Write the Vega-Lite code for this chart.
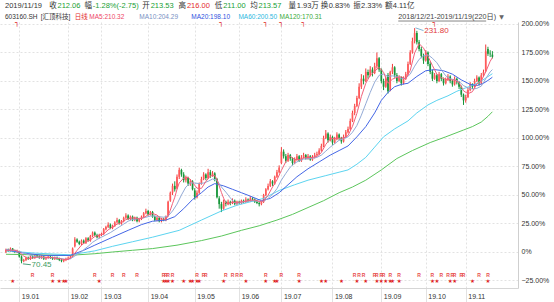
{
"$schema":"https://vega.github.io/schema/vega-lite/v6.json",
"width":518,"height":266,
"autosize":{"type":"none"},
"padding":{"left":0,"top":22,"right":36,"bottom":14},
"background":"#ffffff",
"config":{"view":{"stroke":null},"font":"Liberation Sans"},
"datasets":{
"k":[
{"i":0,"o":0,"h":3,"l":-1,"c":2},{"i":1,"o":2,"h":3,"l":0,"c":1},{"i":2,"o":1,"h":4,"l":0,"c":3},{"i":3,"o":3,"h":3.5,"l":0,"c":1},{"i":4,"o":1,"h":2,"l":-1,"c":0},{"i":5,"o":0,"h":2,"l":-1,"c":1},{"i":6,"o":0,"h":1,"l":-5,"c":-4},{"i":7,"o":-4,"h":-3,"l":-9.9,"c":-8},{"i":8,"o":-8,"h":-6,"l":-9,"c":-7},{"i":9,"o":-7,"h":-4,"l":-8,"c":-5},
{"i":10,"o":-5,"h":-4,"l":-7,"c":-6},{"i":11,"o":-6,"h":-3,"l":-7,"c":-4},{"i":12,"o":-4,"h":-3,"l":-6,"c":-5},{"i":13,"o":-5,"h":-2,"l":-6,"c":-3},{"i":14,"o":-3,"h":-2,"l":-5,"c":-4},{"i":15,"o":-4,"h":-3,"l":-6,"c":-5},{"i":16,"o":-5,"h":-3,"l":-6,"c":-4},{"i":17,"o":-4,"h":-3,"l":-7,"c":-6},{"i":18,"o":-6,"h":-4,"l":-7,"c":-5},{"i":19,"o":-5,"h":-3,"l":-6,"c":-4},
{"i":20,"o":-4,"h":-3,"l":-6,"c":-5},{"i":21,"o":-5,"h":-4,"l":-7,"c":-6},{"i":22,"o":-6,"h":-4,"l":-7,"c":-5},{"i":23,"o":-5,"h":-4,"l":-7,"c":-6},{"i":24,"o":-6,"h":-5,"l":-8,"c":-7},{"i":25,"o":-7,"h":-6,"l":-9,"c":-8},{"i":26,"o":-8,"h":-6,"l":-9,"c":-7},{"i":27,"o":-7,"h":-5,"l":-8,"c":-6},{"i":28,"o":-6,"h":-4,"l":-7,"c":-5},{"i":29,"o":-5,"h":-3,"l":-6,"c":-4},
{"i":30,"o":-4,"h":4,"l":-4.5,"c":3},{"i":31,"o":5,"h":13,"l":4,"c":11},{"i":32,"o":11,"h":12,"l":8,"c":9},{"i":33,"o":9,"h":10,"l":6,"c":7},{"i":34,"o":7,"h":11,"l":6,"c":10},{"i":35,"o":10,"h":11,"l":7,"c":8},{"i":36,"o":8,"h":13,"l":7,"c":12},{"i":37,"o":12,"h":13,"l":9,"c":10},{"i":38,"o":10,"h":15,"l":9,"c":14},{"i":39,"o":14,"h":18,"l":13,"c":17},
{"i":40,"o":17,"h":18,"l":14,"c":15},{"i":41,"o":15,"h":16,"l":12,"c":13},{"i":42,"o":13,"h":16,"l":12,"c":15},{"i":43,"o":15,"h":17,"l":14,"c":16},{"i":44,"o":16,"h":21,"l":15,"c":20},{"i":45,"o":20,"h":23,"l":19,"c":22},{"i":46,"o":22,"h":26,"l":21,"c":24},{"i":47,"o":24,"h":25,"l":20,"c":21},{"i":48,"o":21,"h":24,"l":20,"c":23},{"i":49,"o":23,"h":27,"l":22,"c":26},
{"i":50,"o":26,"h":30,"l":25,"c":28},{"i":51,"o":28,"h":29,"l":24,"c":25},{"i":52,"o":25,"h":28,"l":24,"c":27},{"i":53,"o":27,"h":31,"l":26,"c":30},{"i":54,"o":30,"h":34,"l":29,"c":32},{"i":55,"o":32,"h":33,"l":28,"c":29},{"i":56,"o":29,"h":32,"l":28,"c":31},{"i":57,"o":31,"h":32,"l":27,"c":28},{"i":58,"o":28,"h":31,"l":27,"c":30},{"i":59,"o":30,"h":31,"l":26,"c":27},
{"i":60,"o":27,"h":30,"l":26,"c":29},{"i":61,"o":29,"h":32,"l":28,"c":31},{"i":62,"o":31,"h":35,"l":30,"c":34},{"i":63,"o":34,"h":38,"l":33,"c":36},{"i":64,"o":36,"h":37,"l":32,"c":33},{"i":65,"o":33,"h":36,"l":32,"c":35},{"i":66,"o":35,"h":36,"l":30,"c":31},{"i":67,"o":31,"h":32,"l":27,"c":28},{"i":68,"o":28,"h":31,"l":27,"c":30},{"i":69,"o":30,"h":31,"l":26,"c":27},
{"i":70,"o":27,"h":30,"l":26,"c":29},{"i":71,"o":29,"h":30,"l":27,"c":28},{"i":72,"o":28,"h":32,"l":27,"c":31},{"i":73,"o":32,"h":45,"l":31,"c":44},{"i":74,"o":45,"h":53,"l":44,"c":52},{"i":75,"o":52,"h":60,"l":50,"c":58},{"i":76,"o":58,"h":62,"l":53,"c":55},{"i":77,"o":56,"h":68,"l":55,"c":66},{"i":78,"o":66,"h":74,"l":64,"c":72},{"i":79,"o":72,"h":73,"l":66,"c":68},
{"i":80,"o":68,"h":70,"l":61,"c":63},{"i":81,"o":63,"h":67,"l":61,"c":65},{"i":82,"o":65,"h":66,"l":58,"c":60},{"i":83,"o":60,"h":64,"l":58,"c":62},{"i":84,"o":62,"h":63,"l":54,"c":55},{"i":85,"o":54,"h":56,"l":46,"c":48},{"i":86,"o":48,"h":54,"l":47,"c":52},{"i":87,"o":52,"h":61,"l":51,"c":60},{"i":88,"o":60,"h":66,"l":59,"c":64},{"i":89,"o":64,"h":70,"l":63,"c":68},
{"i":90,"o":68,"h":69,"l":63,"c":65},{"i":91,"o":65,"h":73,"l":64,"c":70},{"i":92,"o":70,"h":72,"l":65,"c":67},{"i":93,"o":67,"h":71,"l":66,"c":69},{"i":94,"o":69,"h":70,"l":62,"c":64},{"i":95,"o":64,"h":65,"l":47,"c":48},{"i":96,"o":47,"h":49,"l":38,"c":42},{"i":97,"o":42,"h":44,"l":35,"c":38},{"i":98,"o":38,"h":46,"l":37,"c":44},{"i":99,"o":44,"h":45,"l":40,"c":42},
{"i":100,"o":42,"h":46,"l":41,"c":44},{"i":101,"o":44,"h":45,"l":41,"c":43},{"i":102,"o":43,"h":47,"l":42,"c":45},{"i":103,"o":45,"h":46,"l":41,"c":42},{"i":104,"o":42,"h":45,"l":41,"c":44},{"i":105,"o":44,"h":45,"l":42,"c":43},{"i":106,"o":43,"h":46,"l":42,"c":45},{"i":107,"o":45,"h":46,"l":43,"c":44},{"i":108,"o":44,"h":48,"l":43,"c":46},{"i":109,"o":46,"h":47,"l":44,"c":45},
{"i":110,"o":45,"h":49,"l":44,"c":47},{"i":111,"o":47,"h":48,"l":45,"c":46},{"i":112,"o":46,"h":47,"l":43,"c":44},{"i":113,"o":44,"h":45,"l":42,"c":43},{"i":114,"o":43,"h":44,"l":40,"c":42},{"i":115,"o":42,"h":45,"l":41,"c":44},{"i":116,"o":44,"h":51,"l":43,"c":50},{"i":117,"o":50,"h":56,"l":49,"c":55},{"i":118,"o":55,"h":60,"l":54,"c":58},{"i":119,"o":58,"h":64,"l":57,"c":62},
{"i":120,"o":62,"h":63,"l":58,"c":60},{"i":121,"o":60,"h":67,"l":59,"c":66},{"i":122,"o":66,"h":72,"l":65,"c":70},{"i":123,"o":70,"h":76,"l":69,"c":74},{"i":124,"o":78,"h":92,"l":77,"c":88},{"i":125,"o":88,"h":90,"l":82,"c":84},{"i":126,"o":84,"h":86,"l":78,"c":80},{"i":127,"o":80,"h":87,"l":79,"c":85},{"i":128,"o":85,"h":86,"l":80,"c":82},{"i":129,"o":82,"h":83,"l":76,"c":78},
{"i":130,"o":78,"h":83,"l":77,"c":81},{"i":131,"o":81,"h":86,"l":80,"c":84},{"i":132,"o":84,"h":85,"l":79,"c":80},{"i":133,"o":80,"h":85,"l":79,"c":83},{"i":134,"o":83,"h":87,"l":82,"c":85},{"i":135,"o":85,"h":86,"l":81,"c":82},{"i":136,"o":82,"h":86,"l":81,"c":84},{"i":137,"o":84,"h":85,"l":80,"c":81},{"i":138,"o":81,"h":85,"l":80,"c":83},{"i":139,"o":83,"h":87,"l":82,"c":85},
{"i":140,"o":85,"h":88,"l":84,"c":86},{"i":141,"o":86,"h":91,"l":85,"c":89},{"i":142,"o":89,"h":95,"l":88,"c":93},{"i":143,"o":93,"h":102,"l":92,"c":100},{"i":144,"o":100,"h":107,"l":99,"c":104},{"i":145,"o":104,"h":105,"l":96,"c":98},{"i":146,"o":98,"h":103,"l":97,"c":101},{"i":147,"o":101,"h":102,"l":94,"c":96},{"i":148,"o":96,"h":101,"l":95,"c":99},{"i":149,"o":99,"h":105,"l":98,"c":103},
{"i":150,"o":103,"h":104,"l":98,"c":100},{"i":151,"o":100,"h":101,"l":95,"c":97},{"i":152,"o":97,"h":103,"l":96,"c":101},{"i":153,"o":101,"h":107,"l":100,"c":105},{"i":154,"o":105,"h":110,"l":104,"c":108},{"i":155,"o":108,"h":117,"l":107,"c":115},{"i":156,"o":115,"h":124,"l":114,"c":122},{"i":157,"o":122,"h":130,"l":120,"c":128},{"i":158,"o":128,"h":137,"l":127,"c":135},{"i":159,"o":135,"h":148,"l":134,"c":145},
{"i":160,"o":145,"h":156,"l":143,"c":152},{"i":161,"o":152,"h":155,"l":147,"c":150},{"i":162,"o":150,"h":161,"l":149,"c":158},{"i":163,"o":158,"h":160,"l":152,"c":155},{"i":164,"o":155,"h":163,"l":154,"c":160},{"i":165,"o":160,"h":162,"l":154,"c":157},{"i":166,"o":157,"h":166,"l":156,"c":163},{"i":167,"o":163,"h":175,"l":161,"c":170},{"i":168,"o":170,"h":171,"l":158,"c":160},{"i":169,"o":160,"h":161,"l":148,"c":150},
{"i":170,"o":150,"h":152,"l":142,"c":145},{"i":171,"o":145,"h":154,"l":144,"c":152},{"i":172,"o":155,"h":157,"l":139,"c":141},{"i":173,"o":142,"h":159,"l":141,"c":158},{"i":174,"o":158,"h":165,"l":156,"c":162},{"i":175,"o":162,"h":163,"l":153,"c":155},{"i":176,"o":155,"h":157,"l":148,"c":150},{"i":177,"o":150,"h":155,"l":149,"c":153},{"i":178,"o":153,"h":154,"l":146,"c":148},{"i":179,"o":148,"h":154,"l":147,"c":152},
{"i":180,"o":152,"h":158,"l":151,"c":156},{"i":181,"o":156,"h":167,"l":155,"c":165},{"i":182,"o":165,"h":177,"l":164,"c":175},{"i":183,"o":175,"h":188,"l":174,"c":185},{"i":184,"o":185,"h":196.4,"l":183,"c":192},{"i":185,"o":192,"h":194,"l":182,"c":184},{"i":186,"o":184,"h":186,"l":176,"c":178},{"i":187,"o":178,"h":180,"l":170,"c":172},{"i":188,"o":172,"h":174,"l":165,"c":168},{"i":189,"o":168,"h":177,"l":167,"c":175},
{"i":190,"o":175,"h":176,"l":163,"c":165},{"i":191,"o":165,"h":167,"l":156,"c":158},{"i":192,"o":158,"h":160,"l":150,"c":152},{"i":193,"o":152,"h":157,"l":151,"c":155},{"i":194,"o":155,"h":156,"l":148,"c":150},{"i":195,"o":150,"h":158,"l":149,"c":156},{"i":196,"o":156,"h":157,"l":150,"c":152},{"i":197,"o":152,"h":153,"l":146,"c":148},{"i":198,"o":148,"h":153,"l":147,"c":151},{"i":199,"o":151,"h":156,"l":150,"c":154},
{"i":200,"o":154,"h":155,"l":148,"c":150},{"i":201,"o":150,"h":151,"l":145,"c":147},{"i":202,"o":147,"h":154,"l":146,"c":152},{"i":203,"o":152,"h":153,"l":147,"c":149},{"i":204,"o":149,"h":150,"l":143,"c":145},{"i":205,"o":145,"h":146,"l":136,"c":138},{"i":206,"o":138,"h":139,"l":129,"c":133},{"i":207,"o":133,"h":138,"l":131,"c":136},{"i":208,"o":136,"h":144,"l":135,"c":142},{"i":209,"o":142,"h":149,"l":141,"c":147},
{"i":210,"o":147,"h":148,"l":143,"c":145},{"i":211,"o":145,"h":152,"l":144,"c":150},{"i":212,"o":150,"h":155,"l":149,"c":153},{"i":213,"o":153,"h":154,"l":146,"c":148},{"i":214,"o":148,"h":157,"l":147,"c":155},{"i":215,"o":155,"h":160,"l":154,"c":158},{"i":216,"o":159,"h":182,"l":158,"c":176},{"i":217,"o":178,"h":180,"l":172,"c":174},{"i":218,"o":174,"h":177,"l":171,"c":173.5},{"i":219,"o":173.1,"h":176.2,"l":169.8,"c":171.2}
],
"ma":[
{"m":"MA120","i":0,"v":-2},{"m":"MA120","i":14,"v":-2.5},{"m":"MA120","i":28,"v":-3},{"m":"MA120","i":40,"v":-1.5},{"m":"MA120","i":48,"v":0},{"m":"MA120","i":57,"v":1.5},{"m":"MA120","i":66,"v":3},{"m":"MA120","i":77,"v":6},{"m":"MA120","i":88,"v":10},{"m":"MA120","i":97,"v":14},{"m":"MA120","i":106,"v":19},{"m":"MA120","i":114,"v":23},{"m":"MA120","i":122,"v":28},{"m":"MA120","i":129,"v":33},{"m":"MA120","i":136,"v":39},{"m":"MA120","i":143,"v":45},{"m":"MA120","i":150,"v":52},{"m":"MA120","i":156,"v":57},{"m":"MA120","i":162,"v":63},{"m":"MA120","i":169,"v":72},{"m":"MA120","i":176,"v":82},{"m":"MA120","i":183,"v":89},{"m":"MA120","i":191,"v":96},{"m":"MA120","i":198,"v":101},{"m":"MA120","i":206,"v":107},{"m":"MA120","i":210,"v":110},{"m":"MA120","i":214,"v":114},{"m":"MA120","i":217,"v":119},{"m":"MA120","i":219,"v":123},
{"m":"MA60","i":0,"v":1},{"m":"MA60","i":13,"v":-1},{"m":"MA60","i":29,"v":-2.5},{"m":"MA60","i":40,"v":1},{"m":"MA60","i":48,"v":5},{"m":"MA60","i":57,"v":9},{"m":"MA60","i":66,"v":13},{"m":"MA60","i":78,"v":19},{"m":"MA60","i":88,"v":28},{"m":"MA60","i":97,"v":36},{"m":"MA60","i":104,"v":41},{"m":"MA60","i":110,"v":44},{"m":"MA60","i":116,"v":47},{"m":"MA60","i":123,"v":54},{"m":"MA60","i":130,"v":59},{"m":"MA60","i":136,"v":63},{"m":"MA60","i":144,"v":67},{"m":"MA60","i":150,"v":70},{"m":"MA60","i":154,"v":72},{"m":"MA60","i":158,"v":77},{"m":"MA60","i":162,"v":83},{"m":"MA60","i":166,"v":92},{"m":"MA60","i":170,"v":101},{"m":"MA60","i":175,"v":108},{"m":"MA60","i":181,"v":115},{"m":"MA60","i":185,"v":122},{"m":"MA60","i":190,"v":129},{"m":"MA60","i":194,"v":133},{"m":"MA60","i":199,"v":137},{"m":"MA60","i":203,"v":141},{"m":"MA60","i":207,"v":144},{"m":"MA60","i":210,"v":146},{"m":"MA60","i":214,"v":150},{"m":"MA60","i":219,"v":156.4},
{"m":"MA20","i":0,"v":2},{"m":"MA20","i":8,"v":-1},{"m":"MA20","i":17,"v":-3},{"m":"MA20","i":29,"v":-3},{"m":"MA20","i":35,"v":1.5},{"m":"MA20","i":40,"v":6},{"m":"MA20","i":48,"v":13},{"m":"MA20","i":55,"v":19},{"m":"MA20","i":61,"v":24},{"m":"MA20","i":66,"v":27},{"m":"MA20","i":72,"v":28},{"m":"MA20","i":76,"v":31},{"m":"MA20","i":80,"v":38},{"m":"MA20","i":84,"v":46},{"m":"MA20","i":88,"v":52},{"m":"MA20","i":91,"v":57},{"m":"MA20","i":94,"v":60},{"m":"MA20","i":98,"v":58},{"m":"MA20","i":102,"v":55},{"m":"MA20","i":106,"v":52},{"m":"MA20","i":110,"v":49},{"m":"MA20","i":115,"v":45},{"m":"MA20","i":119,"v":47},{"m":"MA20","i":123,"v":52},{"m":"MA20","i":127,"v":59},{"m":"MA20","i":131,"v":66},{"m":"MA20","i":136,"v":73},{"m":"MA20","i":141,"v":79},{"m":"MA20","i":146,"v":85},{"m":"MA20","i":150,"v":89},{"m":"MA20","i":154,"v":93},{"m":"MA20","i":158,"v":101},{"m":"MA20","i":162,"v":110},{"m":"MA20","i":166,"v":122},{"m":"MA20","i":169,"v":133},{"m":"MA20","i":172,"v":140},{"m":"MA20","i":175,"v":145},{"m":"MA20","i":178,"v":147},{"m":"MA20","i":181,"v":148},{"m":"MA20","i":185,"v":154},{"m":"MA20","i":189,"v":159},{"m":"MA20","i":193,"v":160},{"m":"MA20","i":197,"v":159},{"m":"MA20","i":201,"v":156},{"m":"MA20","i":205,"v":151},{"m":"MA20","i":209,"v":147},{"m":"MA20","i":212,"v":146},{"m":"MA20","i":215,"v":148},{"m":"MA20","i":217,"v":150.5},{"m":"MA20","i":219,"v":153.3},
{"m":"MA10","i":0,"v":2},{"m":"MA10","i":3,"v":1.5},{"m":"MA10","i":6,"v":0.5},{"m":"MA10","i":9,"v":-1.5},{"m":"MA10","i":12,"v":-3.5},{"m":"MA10","i":15,"v":-5},{"m":"MA10","i":18,"v":-5},{"m":"MA10","i":21,"v":-5},{"m":"MA10","i":24,"v":-5.5},{"m":"MA10","i":27,"v":-6.5},{"m":"MA10","i":29,"v":-6},{"m":"MA10","i":31,"v":-3.5},{"m":"MA10","i":33,"v":-1},{"m":"MA10","i":35,"v":2},{"m":"MA10","i":37,"v":5},{"m":"MA10","i":39,"v":8.5},{"m":"MA10","i":41,"v":11},{"m":"MA10","i":43,"v":13},{"m":"MA10","i":45,"v":15},{"m":"MA10","i":47,"v":17},{"m":"MA10","i":49,"v":19.5},{"m":"MA10","i":51,"v":22},{"m":"MA10","i":53,"v":24.5},{"m":"MA10","i":55,"v":27},{"m":"MA10","i":57,"v":28.5},{"m":"MA10","i":59,"v":29},{"m":"MA10","i":61,"v":29.5},{"m":"MA10","i":63,"v":30.5},{"m":"MA10","i":65,"v":31.5},{"m":"MA10","i":67,"v":31.5},{"m":"MA10","i":69,"v":31},{"m":"MA10","i":71,"v":30.5},{"m":"MA10","i":73,"v":31.5},{"m":"MA10","i":75,"v":36},{"m":"MA10","i":77,"v":42},{"m":"MA10","i":79,"v":50},{"m":"MA10","i":81,"v":57},{"m":"MA10","i":83,"v":60.5},{"m":"MA10","i":85,"v":60.5},{"m":"MA10","i":87,"v":60},{"m":"MA10","i":89,"v":60.5},{"m":"MA10","i":91,"v":62},{"m":"MA10","i":93,"v":64},{"m":"MA10","i":95,"v":63},{"m":"MA10","i":97,"v":57},{"m":"MA10","i":99,"v":52.5},{"m":"MA10","i":101,"v":47.5},{"m":"MA10","i":103,"v":43},{"m":"MA10","i":105,"v":43},{"m":"MA10","i":108,"v":44.5},{"m":"MA10","i":111,"v":45},{"m":"MA10","i":114,"v":44.5},{"m":"MA10","i":116,"v":44.5},{"m":"MA10","i":118,"v":47},{"m":"MA10","i":120,"v":50.5},{"m":"MA10","i":122,"v":55.5},{"m":"MA10","i":124,"v":63},{"m":"MA10","i":126,"v":69},{"m":"MA10","i":128,"v":74.5},{"m":"MA10","i":130,"v":78},{"m":"MA10","i":132,"v":80},{"m":"MA10","i":134,"v":81.5},{"m":"MA10","i":137,"v":82},{"m":"MA10","i":140,"v":83},{"m":"MA10","i":142,"v":85},{"m":"MA10","i":144,"v":88.5},{"m":"MA10","i":146,"v":92},{"m":"MA10","i":148,"v":95},{"m":"MA10","i":150,"v":98},{"m":"MA10","i":152,"v":99.5},{"m":"MA10","i":154,"v":101},{"m":"MA10","i":156,"v":105},{"m":"MA10","i":158,"v":111},{"m":"MA10","i":160,"v":120},{"m":"MA10","i":162,"v":130},{"m":"MA10","i":164,"v":140},{"m":"MA10","i":166,"v":149},{"m":"MA10","i":168,"v":155},{"m":"MA10","i":170,"v":156},{"m":"MA10","i":172,"v":154},{"m":"MA10","i":174,"v":154.5},{"m":"MA10","i":176,"v":154},{"m":"MA10","i":178,"v":152},{"m":"MA10","i":180,"v":152.5},{"m":"MA10","i":182,"v":156},{"m":"MA10","i":184,"v":163},{"m":"MA10","i":186,"v":169},{"m":"MA10","i":188,"v":172},{"m":"MA10","i":190,"v":173},{"m":"MA10","i":192,"v":170},{"m":"MA10","i":194,"v":166},{"m":"MA10","i":196,"v":160},{"m":"MA10","i":198,"v":154.5},{"m":"MA10","i":200,"v":152},{"m":"MA10","i":202,"v":151},{"m":"MA10","i":204,"v":149.5},{"m":"MA10","i":206,"v":146},{"m":"MA10","i":208,"v":144},{"m":"MA10","i":210,"v":143},{"m":"MA10","i":212,"v":143.5},{"m":"MA10","i":214,"v":145.5},{"m":"MA10","i":216,"v":152},{"m":"MA10","i":218,"v":158},{"m":"MA10","i":219,"v":160},
{"m":"MA5","i":0,"v":1.5},{"m":"MA5","i":2,"v":1.6},{"m":"MA5","i":4,"v":1.6},{"m":"MA5","i":6,"v":0},{"m":"MA5","i":8,"v":-3.6},{"m":"MA5","i":10,"v":-5.8},{"m":"MA5","i":12,"v":-5.2},{"m":"MA5","i":14,"v":-4.4},{"m":"MA5","i":16,"v":-4.2},{"m":"MA5","i":18,"v":-4.8},{"m":"MA5","i":20,"v":-4.8},{"m":"MA5","i":22,"v":-5.2},{"m":"MA5","i":24,"v":-5.8},{"m":"MA5","i":26,"v":-6.6},{"m":"MA5","i":28,"v":-6.6},{"m":"MA5","i":30,"v":-3.8},{"m":"MA5","i":31,"v":-1.2},{"m":"MA5","i":32,"v":1.4},{"m":"MA5","i":34,"v":6},{"m":"MA5","i":36,"v":9},{"m":"MA5","i":38,"v":10.6},{"m":"MA5","i":40,"v":13.6},{"m":"MA5","i":42,"v":14.8},{"m":"MA5","i":44,"v":15.8},{"m":"MA5","i":46,"v":19.4},{"m":"MA5","i":48,"v":22},{"m":"MA5","i":50,"v":24.4},{"m":"MA5","i":52,"v":25.8},{"m":"MA5","i":54,"v":28.4},{"m":"MA5","i":56,"v":29.6},{"m":"MA5","i":58,"v":30},{"m":"MA5","i":60,"v":29},{"m":"MA5","i":62,"v":30.2},{"m":"MA5","i":64,"v":32.6},{"m":"MA5","i":66,"v":33.8},{"m":"MA5","i":68,"v":32.4},{"m":"MA5","i":70,"v":29},{"m":"MA5","i":72,"v":28.6},{"m":"MA5","i":73,"v":31.8},{"m":"MA5","i":74,"v":36.8},{"m":"MA5","i":75,"v":42.6},{"m":"MA5","i":76,"v":48},{"m":"MA5","i":77,"v":55},{"m":"MA5","i":78,"v":60.6},{"m":"MA5","i":80,"v":64.8},{"m":"MA5","i":82,"v":65.6},{"m":"MA5","i":84,"v":61},{"m":"MA5","i":86,"v":56},{"m":"MA5","i":88,"v":55.8},{"m":"MA5","i":90,"v":61.8},{"m":"MA5","i":92,"v":66.8},{"m":"MA5","i":94,"v":67},{"m":"MA5","i":95,"v":63.6},{"m":"MA5","i":96,"v":58},{"m":"MA5","i":97,"v":52.2},{"m":"MA5","i":98,"v":47.2},{"m":"MA5","i":99,"v":42.8},{"m":"MA5","i":100,"v":42},{"m":"MA5","i":102,"v":43.6},{"m":"MA5","i":104,"v":43.6},{"m":"MA5","i":106,"v":43.8},{"m":"MA5","i":108,"v":44.4},{"m":"MA5","i":110,"v":45.4},{"m":"MA5","i":112,"v":45.6},{"m":"MA5","i":114,"v":44.4},{"m":"MA5","i":116,"v":44.6},{"m":"MA5","i":118,"v":49.8},{"m":"MA5","i":120,"v":57},{"m":"MA5","i":122,"v":63.2},{"m":"MA5","i":124,"v":71.6},{"m":"MA5","i":126,"v":79.2},{"m":"MA5","i":128,"v":83.8},{"m":"MA5","i":130,"v":81.2},{"m":"MA5","i":132,"v":81},{"m":"MA5","i":134,"v":82.6},{"m":"MA5","i":136,"v":82.8},{"m":"MA5","i":138,"v":83},{"m":"MA5","i":140,"v":83.8},{"m":"MA5","i":142,"v":87.2},{"m":"MA5","i":144,"v":94.4},{"m":"MA5","i":146,"v":99.2},{"m":"MA5","i":148,"v":99.6},{"m":"MA5","i":150,"v":99.8},{"m":"MA5","i":152,"v":100},{"m":"MA5","i":154,"v":102.2},{"m":"MA5","i":156,"v":110.2},{"m":"MA5","i":158,"v":121.6},{"m":"MA5","i":160,"v":136.4},{"m":"MA5","i":162,"v":148},{"m":"MA5","i":164,"v":155},{"m":"MA5","i":166,"v":158.6},{"m":"MA5","i":168,"v":162},{"m":"MA5","i":170,"v":157.6},{"m":"MA5","i":172,"v":148},{"m":"MA5","i":174,"v":151.6},{"m":"MA5","i":176,"v":153.2},{"m":"MA5","i":178,"v":153.6},{"m":"MA5","i":180,"v":151.8},{"m":"MA5","i":182,"v":159.2},{"m":"MA5","i":184,"v":174.6},{"m":"MA5","i":186,"v":182.8},{"m":"MA5","i":188,"v":178.8},{"m":"MA5","i":190,"v":171.6},{"m":"MA5","i":192,"v":163.6},{"m":"MA5","i":194,"v":156},{"m":"MA5","i":196,"v":153},{"m":"MA5","i":198,"v":151.4},{"m":"MA5","i":200,"v":151},{"m":"MA5","i":202,"v":150.8},{"m":"MA5","i":204,"v":148.6},{"m":"MA5","i":206,"v":141.4},{"m":"MA5","i":208,"v":138.8},{"m":"MA5","i":210,"v":140.6},{"m":"MA5","i":212,"v":147.4},{"m":"MA5","i":214,"v":150.2},{"m":"MA5","i":216,"v":158},{"m":"MA5","i":218,"v":167.3},{"m":"MA5","i":219,"v":170.5}
],
"hdr1":[
{"t":"2019/11/19","k":"t","i":-0.44,"p":216.2},{"t":"收","k":"t","i":19.43,"p":216.2},{"t":"212.06","k":"dn","i":23.18,"p":216.2},{"t":"幅","k":"t","i":35.32,"p":216.2},{"t":"-1.28%(-2.75)","k":"dn","i":39.08,"p":216.2},{"t":"开","k":"t","i":61.37,"p":216.2},{"t":"213.53","k":"dn","i":65.13,"p":216.2},{"t":"高","k":"t","i":77.71,"p":216.2},{"t":"216.00","k":"up","i":81.46,"p":216.2},{"t":"低","k":"t","i":94.05,"p":216.2},{"t":"211.00","k":"dn","i":97.8,"p":216.2},{"t":"均","k":"t","i":109.94,"p":216.2},{"t":"213.57","k":"dn","i":113.7,"p":216.2},{"t":"量","k":"t","i":127.16,"p":216.2},{"t":"1.93万","k":"t","i":130.92,"p":216.2},{"t":"换","k":"t","i":141.73,"p":216.2},{"t":"0.83%","k":"t","i":145.27,"p":216.2},{"t":"振","k":"t","i":156.3,"p":216.2},{"t":"2.33%","k":"t","i":159.84,"p":216.2},{"t":"额","k":"t","i":170.65,"p":216.2},{"t":"4.11亿","k":"t","i":174.19,"p":216.2}
],
"hdr2":[
{"t":"603160.SH","k":"t","i":-0.44,"p":206.1},{"t":"[汇顶科技]","k":"t","i":15.6,"p":206.1},{"t":"日线","k":"up","i":31,"p":206.1},{"t":"MA5:210.32","k":"m5","i":37.5,"p":206.1},{"t":"MA10:204.29","k":"m10","i":60.05,"p":206.1},{"t":"MA20:198.10","k":"m20","i":83.45,"p":206.1},{"t":"MA60:200.50","k":"m60","i":104.65,"p":206.1},{"t":"MA120:170.31","k":"m120","i":123.19,"p":206.1}
],
"rng":[{"t":"2018/12/21-2019/11/19(220日)","i":176.62,"i2":216.2,"p":206.1,"p2":202.6}],
"tri":[{"t":"▼","i":222.1,"p":206.1}],
"ann":[{"t":"231.80","k":"hi","i":188.3,"p":193.5},{"t":"70.45","k":"lo","i":11.5,"p":-11.4}],
"lead":[{"k":"hi","i":184.4,"i2":188,"p":196.6,"p2":194.2},{"k":"lo","i":7.6,"i2":11.2,"p":-10.4,"p2":-11.2}],
"r":[{"i":12,"p":-20.2},{"i":21,"p":-20.2},{"i":40,"p":-20.2},{"i":48,"p":-20.2},{"i":53,"p":-20.2},{"i":59,"p":-20.2},{"i":71,"p":-20.2},{"i":72,"p":-20.2},{"i":73,"p":-20.2},{"i":75,"p":-20.2},{"i":86,"p":-20.2},{"i":89,"p":-20.2},{"i":90,"p":-20.2},{"i":99,"p":-20.2},{"i":102,"p":-20.2},{"i":104,"p":-20.2},{"i":106,"p":-20.2},{"i":117,"p":-20.2},{"i":124,"p":-20.2},{"i":132,"p":-20.2},{"i":157,"p":-20.2},{"i":159,"p":-20.2},{"i":161,"p":-20.2},{"i":166,"p":-20.2},{"i":167,"p":-20.2},{"i":169,"p":-20.2},{"i":170,"p":-20.2},{"i":173,"p":-20.2},{"i":177,"p":-20.2},{"i":186,"p":-20.2},{"i":192,"p":-20.2},{"i":196,"p":-20.2},{"i":199,"p":-20.2},{"i":201,"p":-20.2},{"i":202,"p":-20.2},{"i":205,"p":-20.2},{"i":206,"p":-20.2},{"i":213,"p":-20.2},{"i":217,"p":-20.2}],
"star":[{"i":3,"p":-25.4},{"i":21,"p":-25.4},{"i":24,"p":-25.4},{"i":26,"p":-25.4},{"i":27,"p":-25.4},{"i":42,"p":-25.4},{"i":71,"p":-25.4},{"i":72,"p":-25.4},{"i":73,"p":-25.4},{"i":75,"p":-25.4},{"i":80,"p":-25.4},{"i":83,"p":-25.4},{"i":84,"p":-25.4},{"i":86,"p":-25.4},{"i":87,"p":-25.4},{"i":98,"p":-25.4},{"i":108,"p":-25.4},{"i":117,"p":-25.4},{"i":121,"p":-25.4},{"i":122,"p":-25.4},{"i":132,"p":-25.4},{"i":142,"p":-25.4},{"i":144,"p":-25.4},{"i":151,"p":-25.4},{"i":158,"p":-25.4},{"i":162,"p":-25.4},{"i":167,"p":-25.4},{"i":169,"p":-25.4},{"i":171,"p":-25.4},{"i":173,"p":-25.4},{"i":174,"p":-25.4},{"i":177,"p":-25.4},{"i":192,"p":-25.4},{"i":194,"p":-25.4},{"i":200,"p":-25.4},{"i":202,"p":-25.4},{"i":210,"p":-25.4},{"i":217,"p":-25.4}],
"flag":[{"i":5,"p":200.9},{"i":97,"p":200.9},{"i":117,"p":200.9},{"i":124,"p":200.9},{"i":134,"p":200.9},{"i":193,"p":200.9}]
},
"resolve":{"axis":{"x":"independent","y":"independent"}},
"layer":[
{"data":{"name":"k"},"mark":{"type":"rule","strokeWidth":1},
 "encoding":{
  "x":{"field":"i","type":"quantitative","scale":{"domain":[-0.4415,228.28],"nice":false,"zero":false},
   "axis":{"orient":"bottom","title":null,"values":[6,28,43,64,85,105,124,147,169,189,207],
    "labelExpr":"datum.value == 6 ? '19.01' : datum.value == 28 ? '19.02' : datum.value == 43 ? '19.03' : datum.value == 64 ? '19.04' : datum.value == 85 ? '19.05' : datum.value == 105 ? '19.06' : datum.value == 124 ? '19.07' : datum.value == 147 ? '19.08' : datum.value == 169 ? '19.09' : datum.value == 189 ? '19.10' : '19.11'",
    "grid":true,"gridDash":[2,2],"gridColor":"#e2e2e2","ticks":true,"tickSize":14,"tickColor":"#e2e2e2",
    "domain":true,"domainColor":"#d6d6d6","labelAlign":"left","labelOffset":2,"labelPadding":-10,"labelFontSize":7,"labelColor":"#333333","labelOverlap":false,"labelFlush":false,"labelBaseline":"top"}},
  "y":{"field":"l","type":"quantitative","scale":{"domain":[-31.58,201.75],"nice":false,"zero":false},
   "axis":{"orient":"right","title":null,"values":[-25,0,25,50,75,100,125,150,175,200],
    "labelExpr":"datum.value == 0 ? '0%' : format(datum.value, '.2f') + '%'",
    "grid":true,"gridDash":[2,2],"gridColor":"#e2e2e2","ticks":false,"domain":true,"domainColor":"#cfcfcf",
    "labelPadding":3,"labelFontSize":7,"labelColor":"#333333","labelOverlap":false,"labelFlush":false}},
  "y2":{"field":"h"},
  "color":{"condition":{"test":"datum.c >= datum.o","value":"#f03a3a"},"value":"#17963a"}}},
{"data":{"name":"k"},"mark":{"type":"bar","size":1.7},
 "encoding":{
  "x":{"field":"i","type":"quantitative","axis":null},
  "y":{"field":"o","type":"quantitative","axis":null},
  "y2":{"field":"c"},
  "color":{"condition":{"test":"datum.c >= datum.o","value":"#ff5a5a"},"value":"#17963a"}}},
{"data":{"name":"ma"},"mark":{"type":"line","strokeWidth":1},
 "encoding":{
  "x":{"field":"i","type":"quantitative","axis":null},
  "y":{"field":"v","type":"quantitative","axis":null},
  "detail":{"field":"m","type":"nominal"},
  "stroke":{"field":"m","type":"nominal","legend":null,"scale":{"domain":["MA5","MA10","MA20","MA60","MA120"],"range":["#f2607a","#93aad6","#4466e6","#5cd4f0","#5cc65c"]}}}},
{"data":{"name":"lead"},"mark":{"type":"rule","strokeWidth":1},
 "encoding":{
  "x":{"field":"i","type":"quantitative","axis":null},"x2":{"field":"i2"},
  "y":{"field":"p","type":"quantitative","axis":null},"y2":{"field":"p2"},
  "color":{"condition":{"test":"datum.k == 'hi'","value":"#7fb6d6"},"value":"#4a9f7a"}}},
{"data":{"name":"ann"},"mark":{"type":"text","align":"left","baseline":"middle","fontSize":8,"font":"Liberation Sans"},
 "encoding":{
  "x":{"field":"i","type":"quantitative","axis":null},
  "y":{"field":"p","type":"quantitative","axis":null},
  "text":{"field":"t"},
  "color":{"condition":{"test":"datum.k == 'hi'","value":"#e23b3b"},"value":"#3d9b63"}}},
{"data":{"name":"r"},"mark":{"type":"text","fontSize":5,"fontWeight":"bold","baseline":"middle","align":"center","color":"#e85050"},
 "encoding":{
  "x":{"field":"i","type":"quantitative","axis":null},
  "y":{"field":"p","type":"quantitative","axis":null},
  "text":{"value":"R"}}},
{"data":{"name":"star"},"mark":{"type":"text","fontSize":5.5,"baseline":"middle","align":"center","color":"#e01c1c","font":"DejaVu Sans"},
 "encoding":{
  "x":{"field":"i","type":"quantitative","axis":null},
  "y":{"field":"p","type":"quantitative","axis":null},
  "text":{"value":"★"}}},
{"data":{"name":"flag"},"mark":{"type":"text","fontSize":7,"fontWeight":"bold","baseline":"middle","align":"center","color":"#e02020","font":"DejaVu Sans"},
 "encoding":{
  "x":{"field":"i","type":"quantitative","axis":null},
  "y":{"field":"p","type":"quantitative","axis":null},
  "text":{"value":"┐"}}},
{"data":{"name":"hdr1"},"mark":{"type":"text","align":"left","baseline":"middle","fontSize":7.5,"font":"Liberation Sans, Noto Sans CJK SC"},
 "encoding":{
  "x":{"field":"i","type":"quantitative","axis":null},
  "y":{"field":"p","type":"quantitative","axis":null},
  "text":{"field":"t"},
  "fill":{"field":"k","type":"nominal","legend":null,"scale":{"domain":["t","up","dn","m5","m10","m20","m60","m120"],"range":["#333333","#e42b2b","#18a034","#ee4466","#7890c4","#2f52e0","#2cb8e0","#3aaa3a"]}}}},
{"data":{"name":"hdr2"},"mark":{"type":"text","align":"left","baseline":"middle","fontSize":6.5,"font":"Liberation Sans, Noto Sans CJK SC"},
 "encoding":{
  "x":{"field":"i","type":"quantitative","axis":null},
  "y":{"field":"p","type":"quantitative","axis":null},
  "text":{"field":"t"},
  "fill":{"field":"k","type":"nominal","legend":null,"scale":{"domain":["t","up","dn","m5","m10","m20","m60","m120"],"range":["#333333","#e42b2b","#18a034","#ee4466","#7890c4","#2f52e0","#2cb8e0","#3aaa3a"]}}}},
{"data":{"name":"rng"},"mark":{"type":"text","align":"left","baseline":"middle","fontSize":7.2,"color":"#444444","font":"Liberation Sans, Noto Sans CJK SC"},
 "encoding":{
  "x":{"field":"i","type":"quantitative","axis":null},
  "y":{"field":"p","type":"quantitative","axis":null},
  "text":{"field":"t"}}},
{"data":{"name":"rng"},"mark":{"type":"rule","strokeWidth":0.8,"color":"#666666"},
 "encoding":{
  "x":{"field":"i","type":"quantitative","axis":null},"x2":{"field":"i2"},
  "y":{"field":"p2","type":"quantitative","axis":null}}},
{"data":{"name":"tri"},"mark":{"type":"text","align":"left","baseline":"middle","fontSize":6,"color":"#666666","font":"DejaVu Sans"},
 "encoding":{
  "x":{"field":"i","type":"quantitative","axis":null},
  "y":{"field":"p","type":"quantitative","axis":null},
  "text":{"field":"t"}}}
]
}
